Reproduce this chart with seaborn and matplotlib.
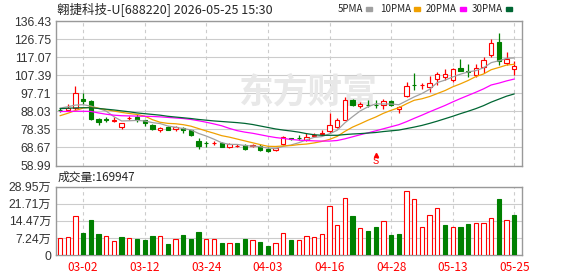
import numpy as np
import pandas as pd
import matplotlib
matplotlib.use('Agg')
import matplotlib.pyplot as plt
import seaborn as sns
from matplotlib.patches import Rectangle

# daily bars (price in CNY, volume in 万 shares)
opens = [89.0, 88.9, 89.8, 94.9, 93.5, 83.9, 84.2, 83.0, 79.9, 84.3,
         84.9, 83.2, 80.5, 77.8, 79.8, 78.5, 78.9, 77.8, 72.3, 71.2,
         70.9, 70.8, 68.9, 69.5, 69.8, 69.7, 69.2, 68.1, 67.4, 70.6,
         73.5, 73.9, 72.8, 74.8, 76.0, 77.3, 79.6, 83.5, 93.9, 90.7,
         91.7, 91.5, 91.4, 93.7, 89.2, 96.4, 102.3, 102.2, 101.0, 105.3,
         106.7, 104.9, 111.2, 109.5, 107.4, 111.7, 118.2, 125.3, 114.2, 110.7]
closes = [88.7, 90.1, 98.15, 93.5, 83.9, 82.1, 83.2, 83.4, 81.7, 84.6,
          83.2, 81.7, 78.7, 79.2, 78.0, 79.9, 78.2, 75.3, 69.6, 71.0,
          71.2, 69.0, 70.5, 69.7, 68.0, 69.9, 67.4, 66.7, 68.3, 74.2,
          73.2, 73.6, 74.2, 75.1, 76.4, 80.8, 83.2, 94.2, 91.4, 92.1,
          91.5, 91.3, 93.5, 91.5, 90.3, 101.7, 102.0, 102.4, 103.2, 108.3,
          108.1, 110.7, 109.9, 109.2, 111.5, 115.7, 124.6, 114.9, 116.0, 112.4]
highs = [90.0, 92.1, 101.4, 98.15, 94.2, 84.4, 84.9, 84.9, 81.7, 85.6,
         86.7, 83.5, 81.4, 79.9, 80.0, 80.3, 79.6, 78.2, 73.9, 71.9,
         71.9, 71.5, 71.0, 70.3, 70.3, 70.6, 70.3, 68.9, 68.6, 74.9,
         73.7, 75.5, 76.4, 76.4, 78.2, 87.1, 84.4, 96.0, 94.6, 92.8,
         93.9, 93.9, 94.8, 94.2, 91.0, 103.9, 108.5, 103.2, 107.1, 108.9,
         110.7, 111.2, 116.0, 113.5, 113.5, 117.1, 126.7, 130.3, 119.9, 115.3]
lows = [87.9, 87.97, 88.9, 92.1, 83.2, 80.8, 82.3, 82.1, 78.5, 83.2,
        82.4, 80.3, 78.2, 76.7, 77.8, 77.4, 76.4, 74.9, 68.1, 68.9,
        70.1, 68.7, 68.5, 68.9, 67.4, 68.9, 66.7, 66.0, 66.9, 70.1,
        72.8, 72.8, 72.3, 74.2, 75.5, 76.4, 79.0, 83.2, 91.0, 89.6,
        90.3, 89.6, 89.2, 91.0, 87.4, 96.0, 99.6, 99.9, 98.7, 102.3,
        104.9, 104.0, 109.6, 106.7, 106.7, 108.5, 117.1, 112.8, 112.8, 107.4]
volumes = [7.06, 7.5, 16.5, 9.46, 14.8, 8.9, 8.05, 5.9, 7.6, 7.06,
           6.8, 6.35, 8.05, 8.05, 4.66, 6.6, 8.5, 6.8, 9.7, 6.6,
           6.6, 5.1, 5.1, 5.1, 6.8, 6.35, 5.5, 3.8, 5.1, 9.2,
           6.35, 6.35, 8.05, 7.5, 8.9, 20.8, 12.7, 24.0, 16.5, 11.3,
           10.2, 11.9, 14.3, 8.5, 8.9, 27.0, 23.6, 11.7, 16.9, 19.8,
           12.7, 11.7, 11.9, 13.1, 13.6, 13.6, 15.5, 23.7, 14.7, 16.99]

ma5 = [89.8, 90.5, 91.4, 91.6, 90.9, 89.6, 88.2, 85.2, 82.9, 83.0,
       83.2, 82.9, 82.0, 81.5, 80.2, 79.5, 78.8, 78.1, 76.2, 74.8,
       73.1, 71.2, 70.3, 70.3, 69.7, 69.4, 69.1, 68.3, 68.1, 69.3,
       70.0, 71.2, 72.7, 74.1, 74.5, 76.0, 77.9, 81.9, 85.2, 88.3,
       90.5, 92.1, 92.0, 92.0, 91.6, 93.7, 95.8, 97.6, 99.9, 103.5,
       104.8, 106.5, 108.0, 109.2, 109.9, 111.4, 114.2, 115.2, 116.5, 116.7]
ma10 = [85.7, 87.0, 88.5, 89.8, 90.3, 89.7, 89.0, 88.2, 87.5, 86.9,
        86.4, 85.5, 83.6, 82.2, 81.6, 81.4, 80.9, 80.1, 78.8, 77.5,
        76.3, 75.0, 74.2, 73.2, 72.2, 71.2, 70.2, 69.3, 69.2, 69.5,
        69.7, 70.2, 70.5, 71.1, 71.9, 73.0, 74.6, 77.3, 79.6, 81.4,
        83.3, 85.0, 87.0, 88.6, 90.0, 92.1, 94.0, 94.8, 96.0, 97.6,
        99.2, 101.2, 102.8, 104.6, 106.7, 108.1, 110.4, 111.6, 112.9, 113.3]
ma20 = [88.0, 88.0, 88.1, 88.1, 88.0, 87.2, 86.5, 86.0, 85.7, 85.6,
        85.5, 85.4, 85.3, 85.1, 84.8, 84.5, 84.2, 83.7, 83.0, 82.2,
        81.3, 80.3, 78.9, 77.7, 76.9, 76.3, 75.5, 74.7, 74.0, 73.5,
        73.0, 72.6, 72.4, 72.2, 72.1, 72.1, 72.4, 73.3, 74.4, 75.5,
        76.5, 77.6, 78.7, 79.8, 80.9, 82.5, 84.3, 86.0, 87.8, 89.5,
        91.2, 93.1, 94.9, 96.6, 98.3, 100.1, 102.2, 103.2, 104.4, 105.4]
ma30 = [89.5, 89.7, 89.9, 90.0, 90.0, 89.6, 89.2, 88.8, 88.3, 87.8,
        87.2, 86.8, 86.4, 86.0, 85.4, 85.0, 84.6, 84.2, 83.7, 83.3,
        82.9, 82.6, 82.3, 82.0, 81.6, 81.0, 80.2, 79.4, 78.6, 78.0,
        77.5, 76.9, 76.1, 75.5, 75.2, 75.2, 75.2, 75.6, 75.9, 76.1,
        76.4, 76.7, 77.2, 77.6, 78.0, 78.8, 79.6, 80.5, 81.6, 82.8,
        84.1, 85.4, 86.8, 88.1, 89.5, 91.1, 93.0, 94.6, 96.2, 97.4]

date_labels = ['03-02', '03-12', '03-24', '04-03', '04-16', '04-28', '05-13', '05-25']
price_ticks = [58.99, 68.67, 78.35, 88.03, 97.71, 107.39, 117.07, 126.75, 136.43]
price_labels = ['58.99', '68.67', '78.35', '88.03', '97.71', '107.39', '117.07', '126.75', '136.43']
vol_ticks = [0, 7.24, 14.47, 21.71, 28.95]
vol_labels = ['0', '7.24万', '14.47万', '21.71万', '28.95万']
ma_names = ['5PMA', '10PMA', '20PMA', '30PMA']
ma_colors = ['#a0a0a0', '#f0a000', '#ff00ff', '#006633']

RED = '#ff0000'
GREEN = '#008000'
GRID = '#cccccc'
EDGE = '#999999'

df = pd.DataFrame({'open': opens, 'close': closes, 'high': highs, 'low': lows,
                   'vol': volumes})
df['x'] = np.arange(len(df))
df['up'] = df['close'] >= df['open']
df['vol_up'] = df['close'].diff().fillna(0) >= 0
date_pos = df['x'].values[3::8]

sns.set_style('white')
plt.rcParams['font.family'] = ['Liberation Sans', 'Noto Sans CJK SC', 'DejaVu Sans']
CJK = ['Noto Sans CJK SC', 'DejaVu Sans']

W, H = 578, 276
fig = plt.figure(figsize=(W / 100, H / 100), dpi=100)


def box(l, t, r, b):
    return [l / W, 1 - b / H, (r - l) / W, (b - t) / H]


ax = fig.add_axes(box(56, 21.2, 522, 165.5))
axv = fig.add_axes(box(56, 186.7, 522, 255))

# watermark
ax.text(308 / W, 1 - 92 / H, '东方财富', transform=fig.transFigure, fontsize=25,
        fontweight='bold', color='#e8e8e8', ha='center', va='center',
        family=CJK, zorder=0.6)

# candles
up = df[df['up']]
dn = df[~df['up']]
ax.vlines(up['x'], up['low'], up['high'], color=RED, lw=0.9, zorder=2)
ax.vlines(dn['x'], dn['low'], dn['high'], color=GREEN, lw=0.9, zorder=2)
body = np.maximum((df['close'] - df['open']).abs(), 0.15)
ax.bar(df['x'], body, bottom=df[['open', 'close']].min(axis=1), width=0.55,
       facecolor=np.where(df['up'], 'white', GREEN),
       edgecolor=np.where(df['up'], RED, GREEN), linewidth=0.8, zorder=3)

for vals, col in zip([ma5, ma10, ma20, ma30], ma_colors):
    sns.lineplot(x=df['x'], y=vals, color=col, lw=0.9, ax=ax, zorder=4)

# signal marker
ax.plot(41, 64.6, marker='^', ms=3, color=RED, zorder=5)
ax.text(41, 61.4, 'S', color=RED, fontsize=7.5, ha='center', va='center',
        family=['Liberation Mono'], zorder=5)

ax.set_xlim(-0.52, 60.0)
ax.set_ylim(58.99, 136.43)
ax.set_yticks(price_ticks)
ax.set_yticklabels(price_labels)
ax.set_xticks(date_pos)
ax.set_xticklabels([])
ax.set_xlabel('')
ax.set_ylabel('')

# volume
axv.bar(df['x'], df['vol'], width=0.55,
        facecolor=np.where(df['vol_up'], 'white', GREEN),
        edgecolor=np.where(df['vol_up'], RED, GREEN), linewidth=0.8, zorder=3)
axv.set_xlim(-0.52, 60.0)
axv.set_ylim(0, 28.95)
axv.set_yticks(vol_ticks)
axv.set_yticklabels(vol_labels)
axv.set_xticks(date_pos)
axv.set_xticklabels(date_labels, color=RED, fontsize=8.5, family=CJK)

for a in (ax, axv):
    a.grid(True, axis='y', color=GRID, lw=0.8, zorder=0.5)
    a.grid(True, axis='x', color=GRID, lw=0.8, ls=(0, (3, 3)), zorder=0.5)
    a.set_axisbelow(True)
    for s in a.spines.values():
        s.set_color(EDGE)
        s.set_linewidth(1)
        s.set_visible(True)
    a.tick_params(axis='y', length=2, color=EDGE, labelsize=8.7,
                  labelcolor='#333333', pad=1.5)
    a.tick_params(axis='x', length=0, pad=4)

# header
fig.text(57 / W, 1 - 9 / H, '翱捷科技-U[688220] 2026-05-25 15:30', fontsize=9,
         family=CJK, va='center', ha='left')
for name, col, tx, sq in zip(ma_names, ma_colors, [338, 380, 426, 472],
                             [366, 414, 460, 506]):
    fig.text(tx / W, 1 - 9 / H, name, fontsize=7, family=CJK, va='center', ha='left')
    fig.patches.append(Rectangle((sq / W, 1 - 10.5 / H), 6 / W, 3.5 / H,
                                 transform=fig.transFigure, color=col))
fig.text(58 / W, 1 - 177 / H, '成交量:169947', fontsize=8.5, family=CJK,
         va='center', ha='left')

fig.savefig('out.png', dpi=100)
